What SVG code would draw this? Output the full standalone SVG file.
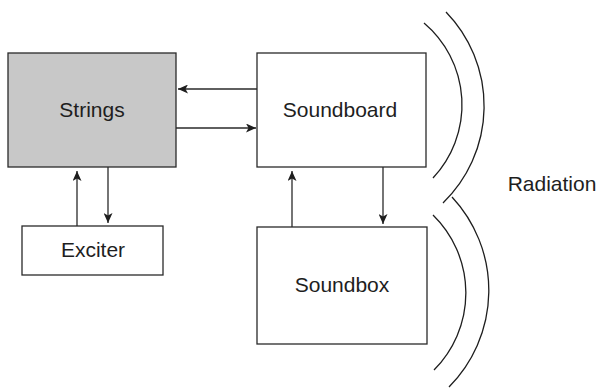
<svg xmlns="http://www.w3.org/2000/svg" width="597" height="389" viewBox="0 0 597 389">
  <style>
    .box { fill: #ffffff; stroke: #2a2a2a; stroke-width: 1.3; }
    .box.shaded { fill: #c8c8c8; }
    .label { font-family: "Liberation Sans", Arial, sans-serif; font-size: 21px; fill: #1e1e1e; text-anchor: middle; }
    .link { fill: none; stroke: #2a2a2a; stroke-width: 1.3; marker-end: url(#head); }
    .wave { fill: none; stroke: #1e1e1e; stroke-width: 1.3; }
  </style>
  <defs>
    <marker id="head" viewBox="0 0 10 10" refX="10" refY="5" markerWidth="10" markerHeight="9" markerUnits="userSpaceOnUse" orient="auto" preserveAspectRatio="none">
      <path d="M0,0 L10,5 L0,10 L2.5,5 Z" fill="#1e1e1e"/>
    </marker>
  </defs>

  <g id="strings">
    <rect class="box shaded" x="8" y="53" width="168" height="114"/>
    <text class="label" x="92" y="117">Strings</text>
  </g>
  <g id="soundboard">
    <rect class="box" x="257" y="53" width="169" height="114"/>
    <text class="label" x="340" y="117">Soundboard</text>
  </g>
  <g id="exciter">
    <rect class="box" x="22" y="226" width="141" height="49"/>
    <text class="label" x="93" y="257">Exciter</text>
  </g>
  <g id="soundbox">
    <rect class="box" x="257" y="227" width="170" height="117"/>
    <text class="label" x="342" y="292">Soundbox</text>
  </g>
  <g id="radiation">
    <path class="wave" d="M424,23 A107,107 0 0 1 433,178"/>
    <path class="wave" d="M446,12 A135,135 0 0 1 443,203"/>
    <path class="wave" d="M433,215 A109,109 0 0 1 434,370"/>
    <path class="wave" d="M452,197 A137,137 0 0 1 449,387"/>
    <text class="label" x="552" y="191">Radiation</text>
  </g>

  <g id="connectors">
    <line class="link" x1="257" y1="89" x2="178" y2="89"/>
    <line class="link" x1="176" y1="128" x2="256" y2="128"/>
    <line class="link" x1="77" y1="226" x2="77" y2="171"/>
    <line class="link" x1="108" y1="167" x2="108" y2="223"/>
    <line class="link" x1="292" y1="227" x2="292" y2="171"/>
    <line class="link" x1="383" y1="167" x2="383" y2="224"/>
  </g>
</svg>
